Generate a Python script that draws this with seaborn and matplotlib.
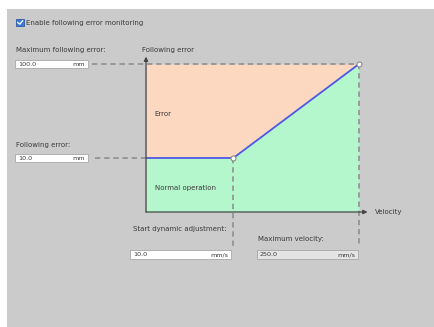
import numpy as np
import matplotlib
matplotlib.use("Agg")
import matplotlib.pyplot as plt
from matplotlib.patches import Rectangle
import seaborn as sns

# ===============================
# DATA (schematic diagram units, 0..1 on both axes)
# ===============================
velocity = [0.0, 0.41, 1.0]          # 0 -> start dynamic adjustment -> max velocity
error_limit = [0.365, 0.365, 1.0]    # following error -> max following error
knee_points_x = [0.41, 1.0]
knee_points_y = [0.365, 1.0]

max_following_error = "100.0"
following_error = "10.0"
start_dynamic = "10.0"
max_velocity = "250.0"

# ===============================
# STYLE
# ===============================
sns.set_style("white")
plt.rcParams['font.family'] = ['DejaVu Sans']
TXT = "#3a3a3a"
PANEL = "#cbcbcb"
DASH = "#8a8a8a"
FS = 5.0

W, H = 435, 327
fig = plt.figure(figsize=(W / 100, H / 100), dpi=100)
fig.patch.set_facecolor("white")

# overlay axes in pixel coordinates for the form widgets
ui = fig.add_axes([0, 0, 1, 1])
ui.set_xlim(0, W)
ui.set_ylim(H, 0)
ui.axis("off")
ui.add_patch(Rectangle((7, 9), W - 7, H - 9, facecolor=PANEL, edgecolor="none"))

# checkbox
ui.add_patch(Rectangle((16, 19), 8, 7, facecolor="#3d7ad6", edgecolor="#2a5aa8", lw=0.6))
ui.plot([17.5, 19.8, 22.8], [22.3, 24.2, 20.6], color="white", lw=0.9)
ui.text(26, 22.5, "Enable following error monitoring", fontsize=FS, color=TXT, va="center")


def input_box(x0, x1, y0, y1, value, unit, fill="white"):
    ui.add_patch(Rectangle((x0, y0), x1 - x0, y1 - y0, facecolor=fill,
                           edgecolor="#a8a8a8", lw=0.6))
    ui.text(x0 + 3, (y0 + y1) / 2 + 0.3, value, fontsize=FS - 0.4, color=TXT, va="center")
    ui.text(x1 - 3, (y0 + y1) / 2 + 0.3, unit, fontsize=FS - 0.4, color=TXT,
            va="center", ha="right")


ui.text(16, 50, "Maximum following error:", fontsize=FS, color=TXT, va="center")
input_box(15, 88, 59.5, 68, max_following_error, "mm")
ui.text(16, 145, "Following error:", fontsize=FS, color=TXT, va="center")
input_box(15, 88, 153.5, 162, following_error, "mm")
ui.text(133, 229, "Start dynamic adjustment:", fontsize=FS, color=TXT, va="center")
input_box(130, 231, 250, 259, start_dynamic, "mm/s")
ui.text(258, 239.5, "Maximum velocity:", fontsize=FS, color=TXT, va="center")
input_box(257, 358, 250, 259, max_velocity, "mm/s", fill="#e4e4e4")

# ===============================
# DIAGRAM
# ===============================
ax = fig.add_axes([146 / W, 1 - 212 / H, 213 / W, 148 / H])
ax.set_xlim(0, 1)
ax.set_ylim(0, 1)
ax.patch.set_alpha(0)
for s in ax.spines.values():
    s.set_visible(False)
ax.set_xticks([])
ax.set_yticks([])

ax.fill_between(velocity, error_limit, 1, color="#fdd8c0", lw=0)
ax.fill_between(velocity, 0, error_limit, color="#b4f7cc", lw=0)


def px_to_data(x, y):
    disp = fig.transFigure.transform((x / W, 1 - y / H))
    return ax.transData.inverted().transform(disp)


# dashed guide lines
dash = dict(color=DASH, lw=1.1, ls=(0, (3.5, 2.5)), clip_on=False, zorder=3)
x_left_top = px_to_data(92, 0)[0]
x_left_mid = px_to_data(95, 0)[0]
y_low_knee = px_to_data(0, 248)[1]
y_low_max = px_to_data(0, 246)[1]
ax.plot([x_left_top, knee_points_x[1]], [knee_points_y[1]] * 2, **dash)
ax.plot([x_left_mid, 0], [error_limit[0]] * 2, **dash)
ax.plot([knee_points_x[0]] * 2, [knee_points_y[0], y_low_knee], **dash)
ax.plot([knee_points_x[1]] * 2, [knee_points_y[1], y_low_max], **dash)

sns.lineplot(x=velocity, y=error_limit, ax=ax, color="#4f58e6", lw=1.3,
             sort=False, zorder=4)
ax.plot(knee_points_x, knee_points_y, ls="none", marker="o", ms=3.6,
        mfc="white", mec="#8a8a8a", mew=0.8, clip_on=False, zorder=6)

# axes with arrows
arrow = dict(arrowstyle="-|>", color="#444444", lw=0.9, mutation_scale=6,
             shrinkA=0, shrinkB=0)
ax.annotate("", xy=(0, 1.05), xytext=(0, 0), arrowprops=arrow,
            annotation_clip=False, zorder=7)
ax.annotate("", xy=(1.04, 0), xytext=(0, 0), arrowprops=arrow,
            annotation_clip=False, zorder=7)

ax.text(-0.02, 1.095, "Following error", fontsize=FS, color=TXT,
        va="center", transform=ax.transAxes)
ax.text(1.075, 0, "Velocity", fontsize=FS, color=TXT, va="center",
        transform=ax.transAxes)
ax.text(0.04, 0.66, "Error", fontsize=FS, color=TXT, va="center")
ax.text(0.04, 0.165, "Normal operation", fontsize=FS, color=TXT, va="center")

fig.savefig("out.png", dpi=100)
